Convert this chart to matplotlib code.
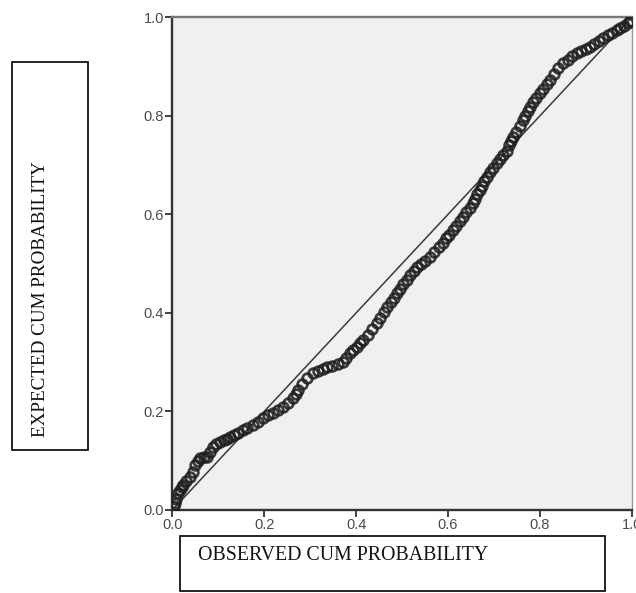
import numpy as np
import matplotlib
matplotlib.use('Agg')
import matplotlib.pyplot as plt
from matplotlib.patches import Rectangle


#----------------
#P-P plot values

observed = [0.003, 0.005, 0.008, 0.012, 0.016, 0.020, 0.023, 0.030, 0.038, 0.044,
            0.049, 0.055, 0.060, 0.068, 0.075, 0.082, 0.088, 0.095, 0.103, 0.112,
            0.120, 0.125, 0.134, 0.143, 0.153, 0.163, 0.175, 0.186, 0.197, 0.208,
            0.219, 0.230, 0.240, 0.251, 0.262, 0.268, 0.273, 0.282, 0.292, 0.306,
            0.318, 0.328, 0.336, 0.348, 0.360, 0.371, 0.378, 0.386, 0.394, 0.402,
            0.408, 0.415, 0.425, 0.435, 0.445, 0.452, 0.460, 0.467, 0.475, 0.482,
            0.489, 0.496, 0.503, 0.511, 0.518, 0.525, 0.532, 0.541, 0.550, 0.560,
            0.570, 0.580, 0.589, 0.596, 0.603, 0.610, 0.617, 0.625, 0.632, 0.640,
            0.647, 0.654, 0.659, 0.664, 0.669, 0.674, 0.679, 0.684, 0.691, 0.698,
            0.706, 0.713, 0.720, 0.728, 0.733, 0.737, 0.741, 0.748, 0.756, 0.763,
            0.768, 0.773, 0.778, 0.785, 0.792, 0.800, 0.807, 0.815, 0.822, 0.831,
            0.840, 0.850, 0.860, 0.870, 0.880, 0.890, 0.900, 0.909, 0.918, 0.928,
            0.937, 0.947, 0.957, 0.967, 0.975, 0.983, 0.991, 0.996]

expected = [0.008, 0.014, 0.022, 0.034, 0.041, 0.047, 0.051, 0.058, 0.067, 0.078,
            0.091, 0.099, 0.105, 0.107, 0.108, 0.118, 0.128, 0.133, 0.138, 0.141,
            0.145, 0.148, 0.152, 0.157, 0.162, 0.167, 0.172, 0.179, 0.187, 0.192,
            0.197, 0.203, 0.209, 0.217, 0.227, 0.235, 0.243, 0.255, 0.267, 0.278,
            0.283, 0.287, 0.290, 0.293, 0.296, 0.300, 0.309, 0.318, 0.325, 0.331,
            0.338, 0.345, 0.356, 0.367, 0.379, 0.390, 0.401, 0.412, 0.422, 0.431,
            0.440, 0.449, 0.458, 0.467, 0.476, 0.485, 0.493, 0.499, 0.506, 0.513,
            0.523, 0.533, 0.542, 0.551, 0.559, 0.568, 0.577, 0.586, 0.594, 0.604,
            0.613, 0.623, 0.632, 0.641, 0.649, 0.658, 0.667, 0.675, 0.685, 0.694,
            0.704, 0.712, 0.720, 0.728, 0.740, 0.749, 0.757, 0.768, 0.780, 0.791,
            0.800, 0.809, 0.817, 0.827, 0.837, 0.846, 0.855, 0.864, 0.872, 0.884,
            0.896, 0.907, 0.914, 0.921, 0.927, 0.931, 0.935, 0.939, 0.945, 0.951,
            0.957, 0.963, 0.968, 0.974, 0.979, 0.983, 0.988, 0.992]

ticks = [0.0, 0.2, 0.4, 0.6, 0.8, 1.0]
tick_labels = ['0.0', '0.2', '0.4', '0.6', '0.8', '1.0']

#----------------
#Figure and axes

fig = plt.figure(figsize=(6.36, 5.93), dpi=100)
ax = fig.add_axes([0.271, 0.140, 0.7225, 0.831])
ax.set_facecolor('#f0f0f0')

ax.plot([0, 1], [0, 1], color='#3a3a3a', linewidth=1.1, zorder=2)
ax.plot(observed, expected, linestyle='none', marker='o', markersize=7,
        markerfacecolor='none', markeredgecolor='#1e1e1e', markeredgewidth=2.0,
        alpha=0.85, zorder=3)

ax.set_xlim(0, 1)
ax.set_ylim(0, 1)
ax.set_xticks(ticks)
ax.set_yticks(ticks)
ax.set_xticklabels(tick_labels)
ax.set_yticklabels(tick_labels)
ax.tick_params(direction='out', length=5, width=1.3, color='#333333',
               labelsize=10.5, labelcolor='#4a4a4a', pad=1)
for lab in ax.get_xticklabels() + ax.get_yticklabels():
    lab.set_family('Liberation Sans')

ax.spines['left'].set_color('#333333')
ax.spines['left'].set_linewidth(1.7)
ax.spines['bottom'].set_color('#333333')
ax.spines['bottom'].set_linewidth(1.7)
ax.spines['top'].set_color('#777777')
ax.spines['top'].set_linewidth(1.7)
ax.spines['right'].set_color('#999999')
ax.spines['right'].set_linewidth(1.0)

#----------------
#Boxed axis titles

fig.patches.append(Rectangle((0.0189, 0.2411), 0.1195, 0.654, transform=fig.transFigure,
                             fill=False, edgecolor='black', linewidth=1.2))
fig.text(0.064, 0.496, 'EXPECTED CUM PROBABILITY', rotation=90, ha='center', va='center',
         family='Liberation Serif', fontsize=13.8, color='#111111')

fig.patches.append(Rectangle((0.283, 0.004), 0.668, 0.092, transform=fig.transFigure,
                             fill=False, edgecolor='black', linewidth=1.2))
fig.text(0.311, 0.064, 'OBSERVED CUM PROBABILITY', ha='left', va='center',
         family='Liberation Serif', fontsize=14.3, color='#111111')

fig.savefig('out.png', dpi=100)
